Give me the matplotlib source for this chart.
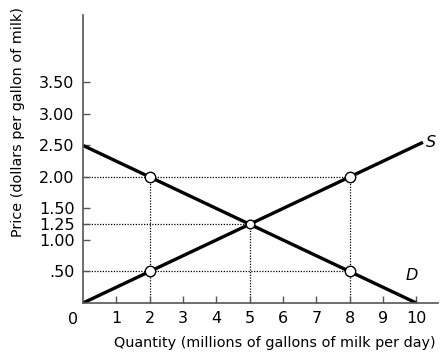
import matplotlib
matplotlib.use("Agg")
import matplotlib.pyplot as plt

# Data
supply_q = [0, 10.2]
supply_p = [0, 2.55]
demand_q = [0, 10]
demand_p = [2.50, 0]
points_q = [2, 2, 5, 8, 8]
points_p = [0.50, 2.00, 1.25, 2.00, 0.50]
x_ticks = [1, 2, 3, 4, 5, 6, 7, 8, 9, 10]
y_ticks = [0.50, 1.00, 1.25, 1.50, 2.00, 2.50, 3.00, 3.50]
y_tick_labels = [".50", "1.00", "1.25", "1.50", "2.00", "2.50", "3.00", "3.50"]

W, H = 446, 356
fig = plt.figure(figsize=(W / 100, H / 100), dpi=100)
ax = fig.add_axes([83 / W, (H - 303) / H, (438 - 83) / W, (303 - 15) / H])
ax.set_xlim(0, 10.65)
ax.set_ylim(0, 4.57)

for s in ["top", "right"]:
    ax.spines[s].set_visible(False)
for s in ["left", "bottom"]:
    ax.spines[s].set_color("#555555")
    ax.spines[s].set_linewidth(1.2)

# dotted guide lines
dot = dict(color="black", linestyle=(0, (1, 1.2)), linewidth=0.9, zorder=1)
ax.plot([0, 8], [2.0, 2.0], **dot)
ax.plot([0, 5], [1.25, 1.25], **dot)
ax.plot([0, 8], [0.5, 0.5], **dot)
ax.plot([2, 2], [0, 2.0], **dot)
ax.plot([5, 5], [0, 1.25], **dot)
ax.plot([8, 8], [0, 2.0], **dot)

ax.plot(supply_q, supply_p, color="black", linewidth=2.4, solid_capstyle="butt", zorder=2)
ax.plot(demand_q, demand_p, color="black", linewidth=2.4, solid_capstyle="butt", zorder=2)

sizes = [7.5, 7.5, 6.2, 7.5, 7.5]
for q, p, s in zip(points_q, points_p, sizes):
    ax.plot([q], [p], marker="o", markersize=s, markerfacecolor="white",
            markeredgecolor="black", markeredgewidth=1.0, linestyle="none", zorder=3)

ax.set_xticks(x_ticks)
ax.set_xticklabels([str(t) for t in x_ticks])
ax.set_yticks(y_ticks)
ax.set_yticklabels(y_tick_labels)
ax.tick_params(axis="x", direction="in", length=5, width=1, color="#555555",
               labelsize=11.5, pad=6)
ax.tick_params(axis="y", direction="in", length=5, width=1, color="#555555",
               labelsize=11.5, pad=6)

fig.text(73 / W, 1 - 320 / H, "0", fontsize=11.5, ha="center", va="center")
ax.text(10.45, 2.55, "S", fontsize=11.5, style="italic", ha="center", va="center")
ax.text(9.85, 0.43, "D", fontsize=11.5, style="italic", ha="center", va="center")

fig.text(275 / W, 1 - 343 / H, "Quantity (millions of gallons of milk per day)",
         fontsize=10.4, ha="center", va="center")
fig.text(18 / W, 1 - 122 / H, "Price (dollars per gallon of milk)",
         fontsize=10.4, ha="center", va="center", rotation=90)

fig.savefig("out.png", dpi=100)
